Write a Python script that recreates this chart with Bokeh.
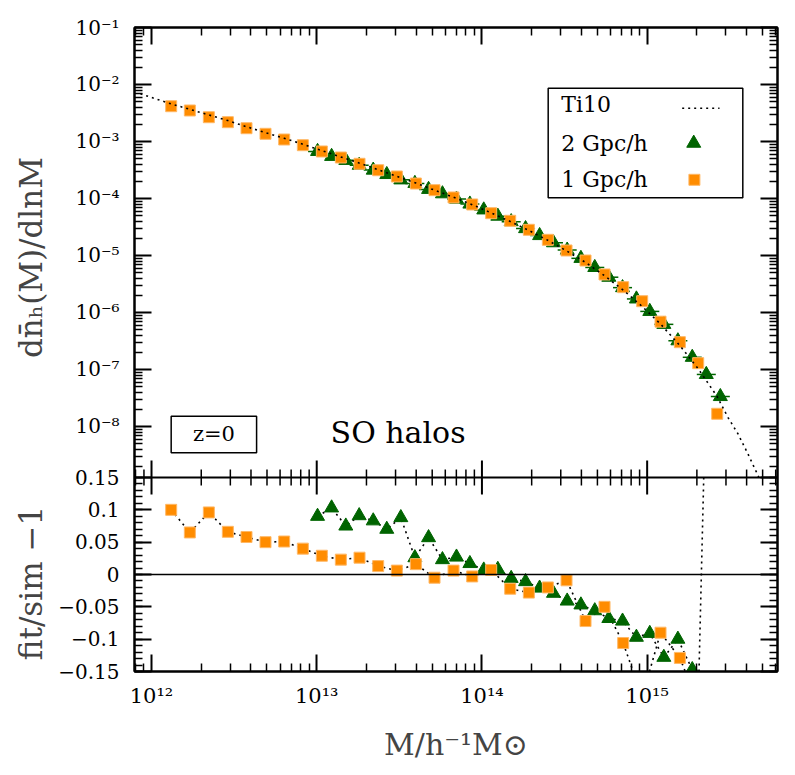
from bokeh.plotting import figure
from bokeh.models import (Range1d, LogAxis, FixedTicker, CustomJSTickFormatter, LinearScale,
                          Label, BoxAnnotation, Span)
from bokeh.embed import file_html
from bokeh.resources import INLINE

# ---------------- data ----------------
# 1 Gpc/h box (orange squares): log10 M, log10 dn/dlnM, fit/sim - 1
logM_1gpc = [12.119, 12.232, 12.347, 12.462, 12.575, 12.690, 12.803, 12.916, 13.031, 13.146,
             13.259, 13.372, 13.485, 13.600, 13.713, 13.828, 13.941, 14.056, 14.171, 14.284,
             14.399, 14.512, 14.627, 14.742, 14.855, 14.970, 15.081, 15.198, 15.309, 15.424]
logn_1gpc = [-2.381, -2.456, -2.574, -2.661, -2.767, -2.865, -2.965, -3.065, -3.175, -3.281,
             -3.391, -3.504, -3.614, -3.737, -3.854, -3.982, -4.105, -4.258, -4.391, -4.549,
             -4.725, -4.912, -5.088, -5.333, -5.556, -5.802, -6.161, -6.521, -6.889, -7.777]
resid_1gpc = [0.100, 0.065, 0.096, 0.066, 0.058, 0.050, 0.051, 0.040, 0.029, 0.023,
              0.026, 0.013, 0.006, 0.016, -0.005, 0.006, -0.003, 0.007, -0.022, -0.028,
              -0.020, -0.009, -0.072, -0.050, -0.106, -0.19, -0.090, -0.129, -0.20, 1.0]

# 2 Gpc/h box (green triangles)
logM_2gpc = [13.005, 13.090, 13.176, 13.257, 13.342, 13.424, 13.509, 13.594, 13.677, 13.761,
             13.846, 13.927, 14.011, 14.096, 14.177, 14.264, 14.349, 14.433, 14.516, 14.599,
             14.683, 14.768, 14.851, 14.935, 15.016, 15.101, 15.186, 15.273, 15.358, 15.443]
logn_2gpc = [-3.174, -3.261, -3.331, -3.416, -3.502, -3.579, -3.673, -3.735, -3.840, -3.917,
             -4.011, -4.097, -4.200, -4.310, -4.406, -4.528, -4.650, -4.776, -4.905, -5.050,
             -5.210, -5.381, -5.564, -5.762, -5.981, -6.208, -6.496, -6.786, -7.087, -7.474]
resid_2gpc = [0.090, 0.103, 0.075, 0.091, 0.083, 0.070, 0.088, 0.026, 0.057, 0.023,
              0.027, 0.017, 0.007, 0.008, -0.006, -0.011, -0.021, -0.029, -0.041, -0.047,
              -0.056, -0.068, -0.072, -0.097, -0.091, -0.128, -0.100, -0.147, -0.22, -0.20]

# Ti10 fit curve
logM_ti10 = [11.933, 12.119, 12.232, 12.347, 12.462, 12.575, 12.690, 12.803, 12.916, 13.031,
             13.146, 13.259, 13.372, 13.485, 13.600, 13.713, 13.828, 13.941, 14.056, 14.171,
             14.284, 14.399, 14.512, 14.627, 14.742, 14.855, 14.970, 15.081, 15.198, 15.309,
             15.424, 15.489, 15.550, 15.610, 15.671, 15.700]
logn_ti10 = [-2.163, -2.340, -2.436, -2.534, -2.633, -2.741, -2.844, -2.943, -3.048, -3.160,
             -3.271, -3.380, -3.496, -3.611, -3.730, -3.853, -3.979, -4.108, -4.253, -4.402,
             -4.561, -4.734, -4.918, -5.121, -5.355, -5.607, -5.894, -6.202, -6.581, -6.986,
             -7.476, -7.840, -8.130, -8.480, -8.860, -9.050]

x_decades = [12, 13, 14, 15]
y_decades = [-1, -2, -3, -4, -5, -6, -7, -8]
resid_ticks = [-0.15, -0.1, -0.05, 0.0, 0.05, 0.1, 0.15]
resid_minor = [round(-0.15 + 0.01 * i, 2) for i in range(31)]

legend_labels = ["Ti10", "2 Gpc/h", "1 Gpc/h"]

# ---------------- layout constants ----------------
FONT = "DejaVu Serif"
ORANGE = "#FF8C00"
GREEN = "#006400"
EDGE = "#FFB866"

LX_MIN, LX_MAX = 11.897, 15.789          # log10 M range of the frame
LY_TOP = -1.0                            # top of the upper panel
SPLIT = -8.895                           # log10 value at the panel boundary
PX_PER_DEC = 57.0                        # vertical pixels per decade in upper panel
FRAME_TOP_H, FRAME_BOT_H = 450, 194
DEC_B = FRAME_BOT_H / PX_PER_DEC         # decades spanned by the lower panel
LY_BOT = SPLIT - DEC_B
R_LO, R_HI = -0.15, 0.15
R_TOP = R_HI + (R_HI - R_LO) * FRAME_TOP_H / FRAME_BOT_H


def r_to_main(r):
    """position of a residual value on the main (log) y axis"""
    return 10 ** (SPLIT - (R_HI - r) / (R_HI - R_LO) * DEC_B)


def clip_polyline(xs, ys, lo, hi):
    segs, cx, cy = [], [], []
    for i in range(len(xs) - 1):
        x0, y0, x1, y1 = xs[i], ys[i], xs[i + 1], ys[i + 1]
        dy = y1 - y0
        if dy == 0:
            t0, t1 = (0.0, 1.0) if lo <= y0 <= hi else (1.0, 0.0)
        else:
            ta, tb = (lo - y0) / dy, (hi - y0) / dy
            t0, t1 = max(0.0, min(ta, tb)), min(1.0, max(ta, tb))
        if t0 > t1:
            if cx:
                segs.append((cx, cy))
                cx, cy = [], []
            continue
        p0 = (x0 + t0 * (x1 - x0), y0 + t0 * dy)
        p1 = (x0 + t1 * (x1 - x0), y0 + t1 * dy)
        if cx and t0 == 0.0:
            cx.append(p1[0]); cy.append(p1[1])
        else:
            if cx:
                segs.append((cx, cy))
            cx, cy = [p0[0], p1[0]], [p0[1], p1[1]]
        if t1 < 1.0:
            segs.append((cx, cy))
            cx, cy = [], []
    if cx:
        segs.append((cx, cy))
    return segs


M1 = [10 ** v for v in logM_1gpc]
N1 = [10 ** v for v in logn_1gpc]
M2 = [10 ** v for v in logM_2gpc]
N2 = [10 ** v for v in logn_2gpc]

# ---------------- ticks ----------------
x_major = [10.0 ** d for d in x_decades]
x_minor = [k * 10.0 ** d for d in range(11, 16) for k in range(2, 10)]
y_major = [10.0 ** d for d in y_decades] + [r_to_main(r) for r in resid_ticks]
y_minor = ([k * 10.0 ** d for d in range(-9, -1) for k in range(2, 10) if k * 10.0 ** d > 10 ** SPLIT * 1.001]
           + [r_to_main(r) for r in resid_minor])

YFMT = CustomJSTickFormatter(args=dict(split=SPLIT, decb=DEC_B, rhi=R_HI, rspan=R_HI - R_LO), code="""
const lg = Math.log10(tick);
if (lg > split + 1e-6) {
  const sup = {'-':'\u207B','0':'\u2070','1':'\u00B9','2':'\u00B2','3':'\u00B3','4':'\u2074',
               '5':'\u2075','6':'\u2076','7':'\u2077','8':'\u2078','9':'\u2079'};
  const e = Math.round(lg);
  return '10' + String(e).split('').map(c => sup[c]).join('');
}
const r = rhi - (split - lg) / decb * rspan;
const v = Math.round(r * 100) / 100;
if (Math.abs(v) < 1e-9) return '0';
return v.toString().replace('-', '\u2212');
""")
XFMT = CustomJSTickFormatter(code="""
const sup = {'-':'\u207B','0':'\u2070','1':'\u00B9','2':'\u00B2','3':'\u00B3','4':'\u2074',
             '5':'\u2075','6':'\u2076','7':'\u2077','8':'\u2078','9':'\u2079'};
const e = Math.round(Math.log10(tick));
return '10' + String(e).split('').map(c => sup[c]).join('');
""")
EMPTY = CustomJSTickFormatter(code="return '';")


def style_axis(ax, major, minor, labels, fmt=None, size="20px", standoff=14):
    ax.ticker = FixedTicker(ticks=major, minor_ticks=minor)
    ax.major_tick_in = 17
    ax.major_tick_out = 0
    ax.minor_tick_in = 8
    ax.minor_tick_out = 0
    ax.axis_line_color = "black"
    ax.axis_line_width = 2
    ax.major_tick_line_color = "black"
    ax.major_tick_line_width = 2
    ax.minor_tick_line_color = "black"
    ax.minor_tick_line_width = 1.5
    if labels:
        ax.formatter = fmt
        ax.major_label_text_font = FONT
        ax.major_label_text_font_size = size
        ax.major_label_text_color = "black"
        ax.major_label_standoff = standoff
    else:
        ax.formatter = EMPTY
        ax.major_label_text_font_size = "0px"
        ax.major_label_standoff = 0
        ax.axis_label = None


# ---------------- figure ----------------
p = figure(x_axis_type="log", y_axis_type="log",
           x_range=Range1d(10 ** LX_MIN, 10 ** LX_MAX), y_range=Range1d(10 ** LY_BOT, 10 ** LY_TOP),
           extra_y_ranges={"res": Range1d(R_LO, R_TOP)}, extra_y_scales={"res": LinearScale()},
           width=795, height=775,
           min_border_left=134, min_border_right=18, min_border_top=27, min_border_bottom=104,
           output_backend="svg", toolbar_location=None)
p.grid.visible = False
p.outline_line_color = "black"
p.outline_line_width = 2
p.background_fill_color = "white"
p.border_fill_color = "white"

# axes
style_axis(p.xaxis[0], x_major, x_minor, True, XFMT, "21px", 12)
p.xaxis[0].axis_label = "M/h\u207B\u00B9M\u2299"
p.xaxis[0].axis_label_text_font = FONT
p.xaxis[0].axis_label_text_font_size = "30px"
p.xaxis[0].axis_label_text_font_style = "normal"
p.xaxis[0].axis_label_standoff = 16

style_axis(p.yaxis[0], y_major, y_minor, True, YFMT, "20px", 15)
NB = "\u00A0"
p.yaxis[0].axis_label = "fit/sim \u22121" + NB * 15 + "dn\u0304\u2095(M)/dlnM" + NB * 12
p.yaxis[0].axis_label_text_font = FONT
p.yaxis[0].axis_label_text_font_size = "31px"
p.yaxis[0].axis_label_text_font_style = "normal"
p.yaxis[0].axis_label_standoff = 6

ax_t = LogAxis()
style_axis(ax_t, x_major, x_minor, False)
p.add_layout(ax_t, "above")
ax_r = LogAxis()
style_axis(ax_r, y_major, y_minor, False)
p.add_layout(ax_r, "right")

# boundary between panels: line and inward ticks on both sides
p.add_layout(Span(location=10 ** SPLIT, dimension="width", line_color="black", line_width=2))
bx, by0, by1 = [], [], []
for t in x_major + x_minor:
    if 10 ** LX_MIN < t < 10 ** LX_MAX:
        ln = 17 if t in x_major else 8
        bx += [t, t]
        by0 += [10 ** SPLIT, 10 ** SPLIT]
        by1 += [10 ** (SPLIT + ln / PX_PER_DEC), 10 ** (SPLIT - ln / PX_PER_DEC)]
p.segment(x0=bx, y0=by0, x1=bx, y1=by1, line_color="black",
          line_width=[2 if x in x_major else 1.5 for x in bx])

# ---- upper panel ----
p.scatter(M2, N2, marker="dash", size=19, line_color=GREEN, line_width=1.5)
p.scatter(M2, N2, marker="triangle", size=14, fill_color=GREEN, line_color=GREEN)
p.scatter(M1, N1, marker="square", size=11, fill_color=ORANGE, line_color=EDGE, line_width=1)
ti_segs = clip_polyline(logM_ti10, logn_ti10, SPLIT, 100.0)
p.multi_line([[10 ** v for v in s[0]] for s in ti_segs], [[10 ** v for v in s[1]] for s in ti_segs],
             line_color="black", line_width=1.6, line_dash="2 4")

# legend
p.add_layout(BoxAnnotation(left=10 ** 14.401, right=10 ** 15.579, top=10 ** -2.065, bottom=10 ** -3.988,
                           fill_color=None, line_color="black", line_width=1.5, line_alpha=1))
for txt, ly in zip(legend_labels, [-2.356, -3.03, -3.672]):
    p.add_layout(Label(x=10 ** 14.48, y=10 ** ly, text=txt, text_font=FONT, text_font_size="22px",
                       text_baseline="middle", text_align="left", text_color="black"))
p.line([10 ** 15.212, 10 ** 15.438], [10 ** -2.416, 10 ** -2.416], line_color="black",
       line_width=1.6, line_dash="2 4")
p.scatter([10 ** 15.282], [10 ** -3.03], marker="triangle", size=14, fill_color=GREEN, line_color=GREEN)
p.scatter([10 ** 15.286], [10 ** -3.672], marker="square", size=11, fill_color=ORANGE,
          line_color=EDGE, line_width=1)

# z=0 box and SO halos
p.add_layout(BoxAnnotation(left=10 ** 12.119, right=10 ** 12.636, top=10 ** -7.819, bottom=10 ** -8.461,
                           fill_color=None, line_color="black", line_width=1.5, line_alpha=1))
p.add_layout(Label(x=10 ** 12.378, y=10 ** -8.14, text="z=0", text_font=FONT, text_font_size="21px",
                   text_baseline="middle", text_align="center", text_color="black"))
p.add_layout(Label(x=10 ** 13.084, y=10 ** -8.10, text="SO halos", text_font=FONT, text_font_size="30px",
                   text_baseline="middle", text_align="left", text_color="black"))

# ---- lower panel (residuals) ----
p.add_layout(Span(location=0, dimension="width", y_range_name="res", line_color="black", line_width=1.5))
for lm, rr in [(logM_2gpc, resid_2gpc), (logM_1gpc, resid_1gpc)]:
    segs = clip_polyline(lm, rr, R_LO, R_HI)
    p.multi_line([[10 ** v for v in s[0]] for s in segs], [list(s[1]) for s in segs],
                 y_range_name="res", line_color="black", line_width=1.6, line_dash="2 4")
k2 = [i for i, r in enumerate(resid_2gpc) if R_LO - 0.005 <= r <= R_HI]
k1 = [i for i, r in enumerate(resid_1gpc) if R_LO - 0.005 <= r <= R_HI]
p.scatter([M2[i] for i in k2], [resid_2gpc[i] for i in k2], y_range_name="res",
          marker="triangle", size=14, fill_color=GREEN, line_color=GREEN)
p.scatter([M1[i] for i in k1], [resid_1gpc[i] for i in k1], y_range_name="res",
          marker="square", size=11, fill_color=ORANGE, line_color=EDGE, line_width=1)

open("out.html", "w").write(file_html(p, INLINE))
